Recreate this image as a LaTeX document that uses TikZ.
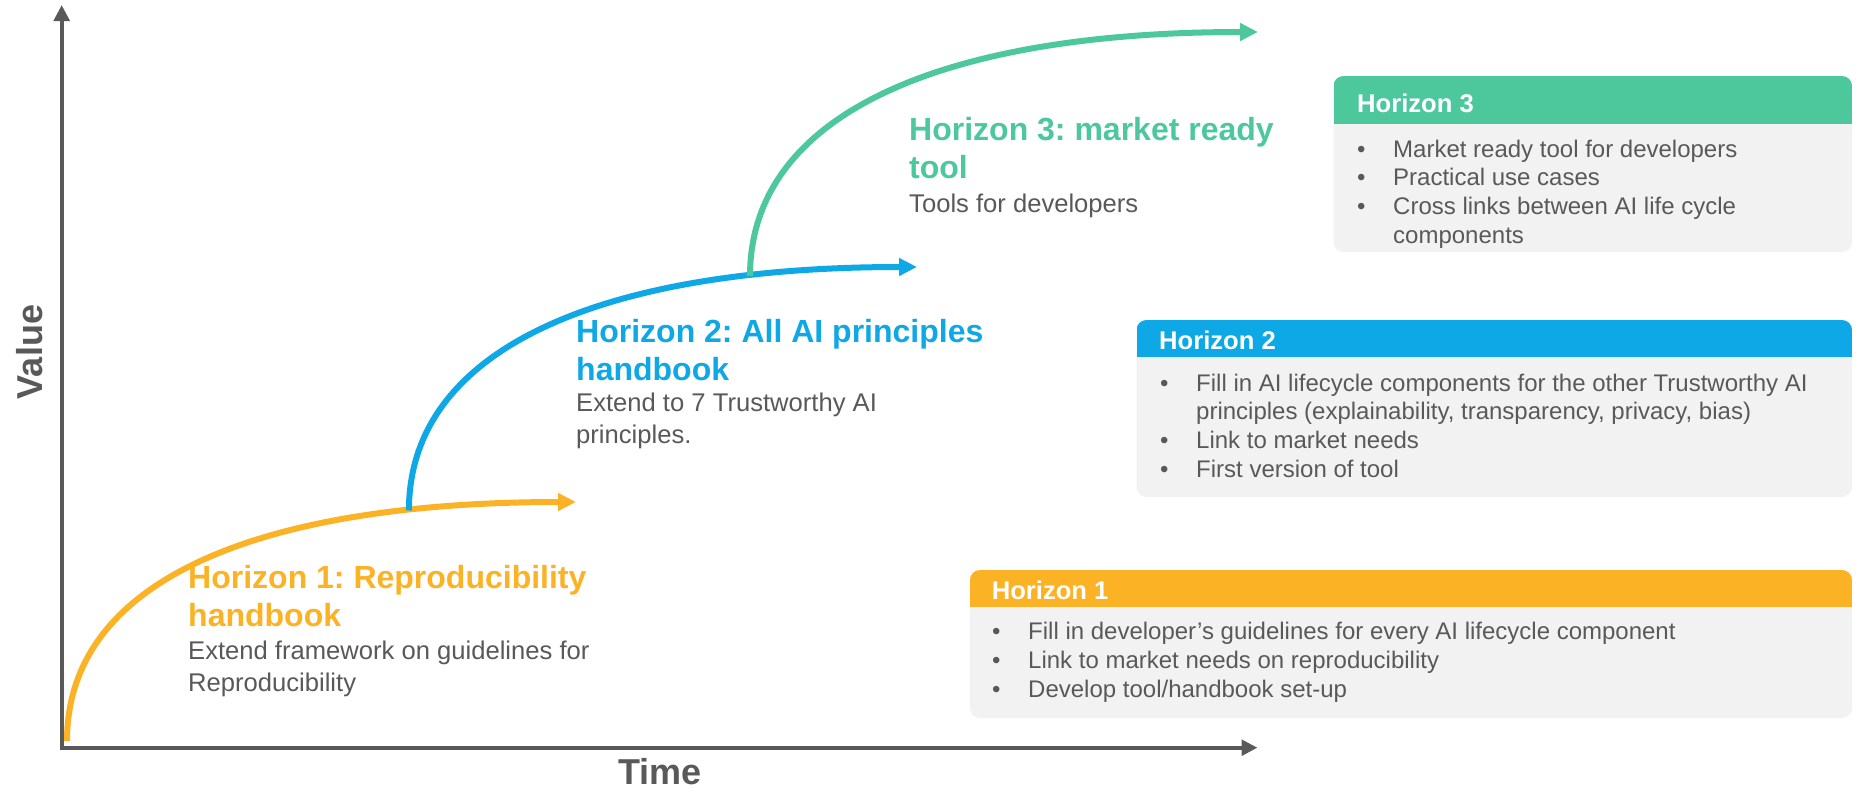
\documentclass[tikz,border=0pt]{standalone}
\usepackage{fontspec}
\setmainfont{Liberation Sans}
\usetikzlibrary{arrows.meta}
\frenchspacing

\definecolor{hzorange}{HTML}{FBB325}
\definecolor{hzblue}{HTML}{0EA8E6}
\definecolor{hzgreen}{HTML}{4DC89D}
\definecolor{axisgray}{HTML}{595959}
\definecolor{txtgray}{HTML}{595959}
\definecolor{cardfill}{HTML}{F2F2F2}

\newcommand\cardbullet{\makebox[36pt][l]{•}}
\newcommand\cardindent{\hspace*{36pt}}

\begin{document}
\begin{tikzpicture}[x=1pt,y=-1pt,
  axis/.style={draw=axisgray, line width=4pt,
    {Triangle[length=16pt,width=15.5pt]}-{Triangle[length=16pt,width=15.5pt]}},
  growth/.style={line width=6pt, -{Triangle[length=18pt,width=17pt]}},
  % multi-line nodes below are placed by the baseline of their last line
  title/.style={anchor=base west, inner sep=0pt, align=left,
    font=\bfseries\fontsize{32}{38}\selectfont},
  desc/.style={anchor=base west, inner sep=0pt, align=left, text=txtgray,
    font=\fontsize{25.6}{32}\selectfont},
  axislabel/.style={text=axisgray, inner sep=0pt,
    font=\bfseries\fontsize{36}{40}\selectfont},
  cardhead/.style={anchor=base west, inner sep=0pt, text=white,
    font=\bfseries\fontsize{25.6}{30}\selectfont},
  cardlist/.style={anchor=base west, inner sep=0pt, align=left, text=txtgray,
    font=\fontsize{24}{28.6}\selectfont},
  cardcorner/.style={rounded corners=10pt},
]
% canvas
\fill[white] (0,0) rectangle (1856,788);
\useasboundingbox (0,0) rectangle (1856,788);

% axes
\coordinate (ytop) at (61.7,5);
\coordinate (origin) at (61.7,747.7);
\coordinate (xend) at (1257.5,747.7);
\draw[axis] (ytop) -- (origin) -- (xend);
\node[axislabel, rotate=90] (vlab) at (30,352) {Value};
\node[axislabel, anchor=base] (tlab) at (660,784) {Time};

% growth curves, each one branching off the previous one
\coordinate (o0) at (67,741);
\coordinate (o1) at (576,502);
\coordinate (b1) at (917,267);
\coordinate (g1) at (1258,32);
\draw[growth, hzorange] (o0) .. controls +(0,-161) and +(-318,0) .. (o1)
  coordinate[pos=0.81] (j1);
\draw[growth, hzblue] (j1) .. controls +(0,-161) and +(-318,0) .. (b1)
  coordinate[pos=0.81] (j2);
\draw[growth, hzgreen] (j2) .. controls +(0,-161) and +(-318,0) .. (g1);

% curve labels
\node[title, text=hzorange] (t1) at (188,626) {Horizon 1: Reproducibility\\handbook};
\node[desc] (d1) at (188,691) {Extend framework on guidelines for\\Reproducibility};
\node[title, text=hzblue] (t2) at (576,380) {Horizon 2: All AI principles\\handbook};
\node[desc] (d2) at (576,443) {Extend to 7 Trustworthy AI\\principles.};
\node[title, text=hzgreen] (t3) at (909,178) {Horizon 3: market ready\\tool};
\node[desc] (d3) at (909,212) {Tools for developers};

% cards
\fill[cardfill, cardcorner] (1333.5,76) rectangle (1852,252);
\begin{scope}
  \clip[cardcorner] (1333.5,76) rectangle (1852,252);
  \fill[hzgreen] (1333.5,76) rectangle (1852,124);
\end{scope}
\node[cardhead] (h3) at (1357,112) {Horizon 3};
\node[cardlist] (l3) at (1357,243) {\cardbullet Market ready tool for developers\\
  \cardbullet Practical use cases\\
  \cardbullet Cross links between AI life cycle\\
  \cardindent components};

\fill[cardfill, cardcorner] (1136.5,320) rectangle (1852,497);
\begin{scope}
  \clip[cardcorner] (1136.5,320) rectangle (1852,497);
  \fill[hzblue] (1136.5,320) rectangle (1852,357);
\end{scope}
\node[cardhead] (h2) at (1159,349) {Horizon 2};
\node[cardlist] (l2) at (1160,477) {\cardbullet Fill in AI lifecycle components for the other Trustworthy AI\\
  \cardindent principles (explainability, transparency, privacy, bias)\\
  \cardbullet Link to market needs\\
  \cardbullet First version of tool};

\fill[cardfill, cardcorner] (970,570) rectangle (1852,718);
\begin{scope}
  \clip[cardcorner] (970,570) rectangle (1852,718);
  \fill[hzorange] (970,570) rectangle (1852,607);
\end{scope}
\node[cardhead] (h1) at (991.6,599) {Horizon 1};
\node[cardlist] (l1) at (992,697) {\cardbullet Fill in developer’s guidelines for every AI lifecycle component\\
  \cardbullet Link to market needs on reproducibility\\
  \cardbullet Develop tool/handbook set-up};
\end{tikzpicture}
\end{document}
